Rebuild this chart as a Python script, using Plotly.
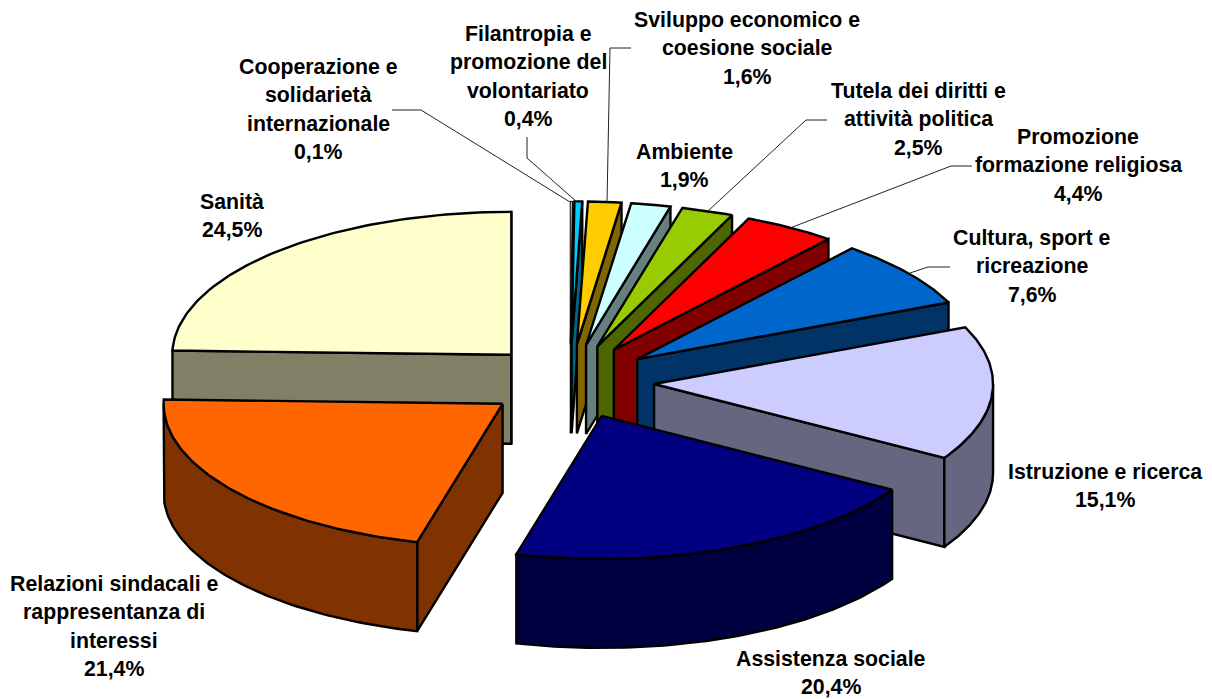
import numpy as np
import plotly.graph_objects as go

categories = [
    "Cooperazione e<br>solidarietà<br>internazionale",
    "Filantropia e<br>promozione del<br>volontariato",
    "Sviluppo economico e<br>coesione sociale",
    "Ambiente",
    "Tutela dei diritti e<br>attività politica",
    "Promozione<br>formazione religiosa",
    "Cultura, sport e<br>ricreazione",
    "Istruzione e ricerca",
    "Assistenza sociale",
    "Relazioni sindacali e<br>rappresentanza di<br>interessi",
    "Sanità",
]
values = [0.1, 0.4, 1.6, 1.9, 2.5, 4.4, 7.6, 15.1, 20.4, 21.4, 24.5]
value_labels = ["0,1%", "0,4%", "1,6%", "1,9%", "2,5%", "4,4%", "7,6%", "15,1%", "20,4%", "21,4%", "24,5%"]

top_colors = ["#FFCC99", "#00CCFF", "#FFCC00", "#CCFFFF", "#99CC00", "#FF0000",
              "#0066CC", "#CCCCFF", "#000080", "#FF6600", "#FFFFCC"]
side_colors = ["#80664D", "#006680", "#806600", "#668080", "#4D6600", "#800000",
               "#003366", "#666680", "#000040", "#803300", "#808066"]

# pie geometry in pixels
cx, cy = 570, 381.5
rx, ry = 339, 143
depth = 89
explode_x, explode_y = 0.2485, 0.26

# where the label text sits: centre x, y of first line
label_x = [318, 528, 747, 684, 918, 1078, 1032, 1105, 831, 114, 232]
label_y = [67, 34, 20, 152, 91, 137, 238, 472, 659, 584, 202]
line_pitch = 28.3

leaders = [
    [(392, 110), (421, 110), (570, 202)],
    [(527, 137), (527, 158), (577, 202)],
    [(631, 48), (610, 48), (607, 203)],
    [(827, 120), (806, 120), (708, 211)],
    [(972, 166), (951, 166), (790, 228)],
    [(950, 267), (928, 267), (910, 273)],
]


def rim(a0, ax, ay):
    return ax + rx * np.sin(a0), ay - ry * np.cos(a0)


def face(xs, ys, fill, name, lw):
    return go.Scatter(x=list(xs), y=list(ys), mode="lines", fill="toself", fillcolor=fill,
                      line=dict(color="black", width=lw), name=name, hoverinfo="name",
                      showlegend=False)


total = sum(values)
edges = np.cumsum([0] + values) / total * 2 * np.pi

slices = []
for i in range(len(values)):
    a0, a1 = edges[i], edges[i + 1]
    mid = (a0 + a1) / 2
    ax = cx + explode_x * rx * np.sin(mid)
    ay = cy - explode_y * ry * np.cos(mid)
    slices.append((ay, i, a0, a1, ax))

fig = go.Figure()

# back slices first, so the nearer ones paint over them
for ay, i, a0, a1, ax in sorted(slices, key=lambda s: s[0]):
    name = categories[i].replace("<br>", " ") + " " + value_labels[i]
    # the sliver would be all outline otherwise
    lw = 1 if values[i] < 0.3 else 2.4

    # cut walls, only the ones facing the viewer
    if np.sin(a0) < 0:
        px, py = rim(a0, ax, ay)
        fig.add_trace(face([ax, px, px, ax, ax], [ay, py, py + depth, ay + depth, ay], side_colors[i], name, lw))
    if np.sin(a1) > 0:
        px, py = rim(a1, ax, ay)
        fig.add_trace(face([ax, px, px, ax, ax], [ay, py, py + depth, ay + depth, ay], side_colors[i], name, lw))

    # outer wall, the part of the rim on the front half
    w0, w1 = max(a0, np.pi / 2), min(a1, 3 * np.pi / 2)
    if w1 > w0:
        t = np.linspace(w0, w1, 80)
        px, py = rim(t, ax, ay)
        xs = np.concatenate([px, px[::-1], px[:1]])
        ys = np.concatenate([py, py[::-1] + depth, py[:1]])
        fig.add_trace(face(xs, ys, side_colors[i], name, lw))

    # top of the slice
    t = np.linspace(a0, a1, 80)
    px, py = rim(t, ax, ay)
    fig.add_trace(face(np.concatenate([[ax], px, [ax]]), np.concatenate([[ay], py, [ay]]), top_colors[i], name, lw))

for pts in leaders:
    fig.add_trace(go.Scatter(x=[p[0] for p in pts], y=[p[1] for p in pts], mode="lines",
                             line=dict(color="#222222", width=1), hoverinfo="skip", showlegend=False))

for i, cat in enumerate(categories):
    lines = cat.split("<br>") + [value_labels[i]]
    for k, txt in enumerate(lines):
        fig.add_annotation(x=label_x[i], y=label_y[i] + k * line_pitch, text="<b>" + txt + "</b>",
                           showarrow=False, xanchor="center", yanchor="middle",
                           font=dict(family="Liberation Sans, Arial, sans-serif", size=21.3, color="black"))

fig.update_layout(
    width=1212, height=699,
    margin=dict(l=0, r=0, t=0, b=0),
    paper_bgcolor="white", plot_bgcolor="white",
    showlegend=False,
    xaxis=dict(range=[0, 1212], visible=False),
    yaxis=dict(range=[699, 0], visible=False),
)

fig.write_html("out.html", config={"displayModeBar": False},
               post_script="document.body.style.margin='0';")
